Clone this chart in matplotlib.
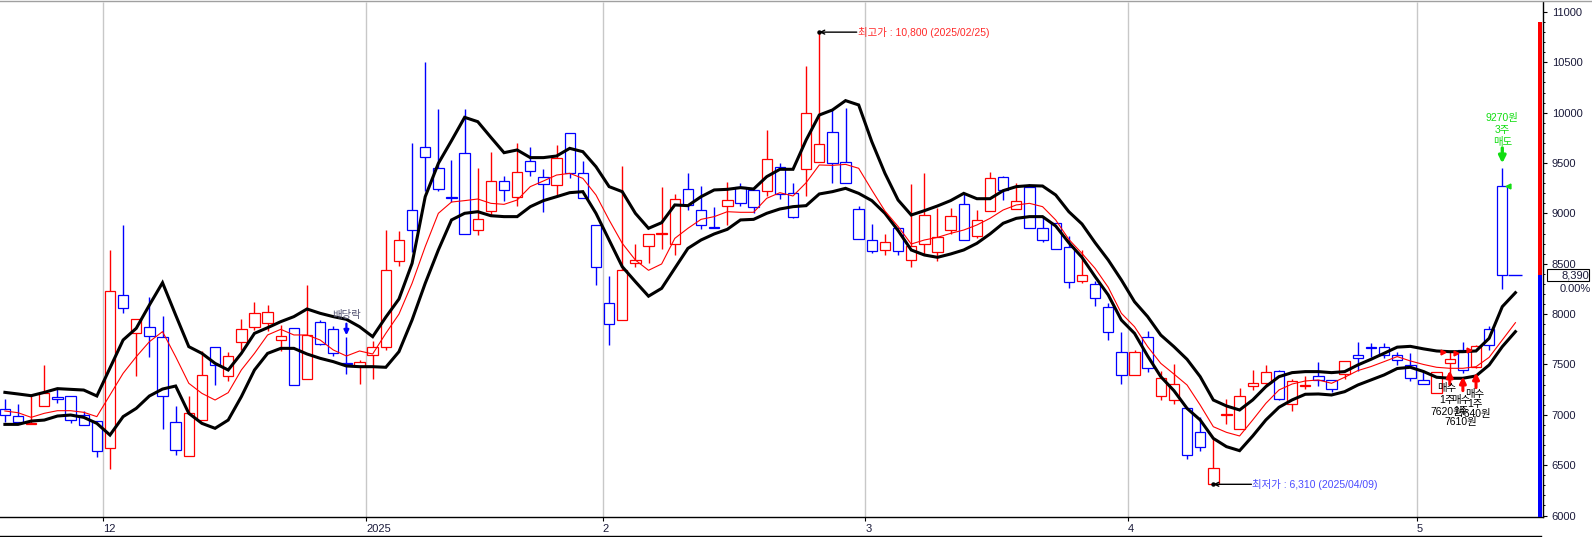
import matplotlib
matplotlib.use('Agg')
import matplotlib.pyplot as plt
import matplotlib.transforms as mtransforms
from matplotlib.patches import Rectangle
from matplotlib.lines import Line2D
import numpy as np

plt.rcParams['font.family'] = ['Liberation Sans', 'Noto Sans CJK KR', 'DejaVu Sans']

# ---------------- data ----------------
opens = [7060, 6990, 6910, 7090, 7180, 7190, 7000, 6940, 6670, 8190,
         7810, 7870, 7770, 6930, 6590, 6950, 7670, 7390, 7720, 7870,
         7910, 7740, 7860, 7360, 7920, 7850, 7510, 7480, 7590, 7670,
         8530, 9030, 9660, 9450, 9160, 9600, 8840, 9020, 9320, 9160,
         9520, 9360, 9280, 9800, 9400, 8880, 8110, 7940, 8510, 8680,
         8800, 8700, 9240, 9030, 8870, 9070, 9260, 9230, 9220, 9460,
         9200, 9440, 9510, 9810, 9510, 9040, 8740, 8640, 8860, 8540,
         8700, 8620, 8840, 9090, 8780, 9020, 9360, 9040, 9260, 8860,
         8900, 8670, 8330, 8300, 8070, 7620, 7400, 7770, 7190, 7150,
         7070, 6830, 6310, 7000, 6860, 7290, 7320, 7440, 7110, 7290,
         7390, 7350, 7410, 7590, 7670, 7670, 7590, 7490, 7350, 7220,
         7510, 7640, 7470, 7850, 9270]
closes = [7000, 6930, 6920, 7220, 7160, 6950, 6900, 6640, 8230, 8060,
          7950, 7780, 7190, 6650, 7020, 7400, 7490, 7580, 7850, 8010,
          8020, 7780, 7300, 7790, 7700, 7610, 7500, 7520, 7670, 8440,
          8740, 8840, 9560, 9240, 9150, 8800, 8940, 9320, 9230, 9410,
          9420, 9290, 9550, 9400, 9150, 8470, 7900, 8440, 8540, 8800,
          8810, 9140, 9080, 8880, 8860, 9130, 9100, 9060, 9540, 9190,
          8960, 10000, 9690, 9500, 9300, 8750, 8630, 8720, 8630, 8680,
          8980, 8770, 8970, 8740, 8930, 9350, 9230, 9120, 8860, 8740,
          8650, 8320, 8390, 8160, 7820, 7400, 7620, 7460, 7370, 7310,
          6600, 6680, 6470, 7010, 7190, 7320, 7430, 7160, 7340, 7300,
          7350, 7260, 7530, 7560, 7660, 7590, 7540, 7370, 7310, 7430,
          7550, 7450, 7680, 7690, 8390]
highs = [7160, 7110, 7200, 7490, 7270, 7190, 7040, 6940, 8640, 8880,
         7950, 8170, 7980, 7090, 7190, 7630, 7670, 7620, 7950, 8120,
         8090, 7890, 7860, 8290, 7940, 7880, 7770, 7540, 7730, 8840,
         8830, 9700, 10500, 10040, 9530, 10040, 9450, 9610, 9370, 9700,
         9660, 9440, 9680, 9800, 9520, 8880, 8380, 9470, 8700, 8800,
         9260, 9190, 9400, 9270, 9060, 9310, 9300, 9230, 9830, 9500,
         9300, 10460, 10800, 10040, 10050, 9070, 8890, 8800, 8860, 9290,
         9400, 9050, 9050, 9200, 9030, 9410, 9370, 9300, 9290, 8970,
         8900, 8780, 8640, 8330, 8110, 7820, 7640, 7830, 7440, 7500,
         7070, 6980, 6770, 7160, 7270, 7450, 7490, 7450, 7360, 7390,
         7520, 7350, 7530, 7720, 7710, 7710, 7620, 7610, 7450, 7430,
         7620, 7720, 7690, 7880, 9450]
lows = [6930, 6910, 6910, 7090, 7120, 6920, 6900, 6580, 6460, 8010,
        7390, 7570, 6860, 6600, 6590, 6950, 7300, 7340, 7640, 7840,
        7830, 7630, 7300, 7360, 7690, 7580, 7410, 7310, 7360, 7640,
        8480, 8620, 9220, 9220, 9110, 8800, 8790, 8980, 9120, 9070,
        9370, 9010, 9180, 9350, 9150, 8290, 7690, 7940, 8470, 8510,
        8650, 8590, 9030, 8850, 8860, 8880, 9070, 9000, 9170, 9140,
        8950, 9170, 9510, 9300, 9300, 8750, 8610, 8590, 8590, 8470,
        8590, 8530, 8800, 8740, 8760, 9020, 9130, 9040, 8860, 8720,
        8650, 8260, 8310, 8080, 7740, 7310, 7400, 7430, 7150, 7110,
        6560, 6640, 6310, 6910, 6860, 7250, 7300, 7150, 7040, 7260,
        7290, 7230, 7360, 7440, 7570, 7560, 7490, 7340, 7310, 7220,
        7420, 7420, 7460, 7640, 8250]

upper_band = [7223, 7207, 7190, 7223, 7260, 7253, 7246, 7187, 7465, 7743,
              7859, 8090, 8312, 7991, 7677, 7610, 7511, 7445, 7610, 7809,
              7865, 7925, 7975, 8051, 8008, 7975, 7948, 7875, 7776, 7970,
              8150, 8504, 9166, 9497, 9722, 9954, 9911, 9755, 9603, 9630,
              9554, 9554, 9570, 9646, 9613, 9464, 9266, 9216, 9001, 8852,
              8908, 9084, 9077, 9166, 9233, 9239, 9256, 9242, 9365, 9438,
              9438, 9729, 9977, 10027, 10120, 10077, 9712, 9398, 9133, 8984,
              9027, 9074, 9127, 9199, 9146, 9146, 9226, 9266, 9276, 9272,
              9183, 9017, 8895, 8709, 8537, 8339, 8123, 7975, 7792, 7677,
              7551, 7379, 7147, 7088, 7048, 7148, 7280, 7379, 7419, 7429,
              7429, 7419, 7429, 7495, 7551, 7611, 7672, 7680, 7655, 7634,
              7627, 7627, 7634, 7760, 8074, 8213]
mid_line = [7038, 7021, 6975, 7015, 7041, 7041, 7025, 6982, 7197, 7412,
            7577, 7726, 7826, 7577, 7313, 7213, 7147, 7220, 7445, 7610,
            7793, 7849, 7793, 7793, 7743, 7644, 7584, 7634, 7604, 7809,
            8000, 8306, 8670, 9001, 9113, 9127, 9143, 9100, 9090, 9133,
            9266, 9322, 9381, 9398, 9348, 9183, 8935, 8703, 8537, 8435,
            8498, 8752, 8852, 8941, 8968, 9017, 9011, 9011, 9150, 9206,
            9173, 9305, 9481, 9477, 9487, 9448, 9232, 9024, 8870, 8696,
            8736, 8762, 8802, 8835, 8885, 8951, 9034, 9084, 9100, 9067,
            8935, 8742, 8603, 8454, 8266, 8008, 7875, 7677, 7511, 7405,
            7296, 7097, 6882, 6826, 6790, 6949, 7114, 7247, 7306, 7336,
            7346, 7313, 7373, 7439, 7479, 7528, 7578, 7535, 7500, 7472,
            7462, 7462, 7478, 7571, 7743, 7915]
lower_band = [6905, 6905, 6938, 6948, 6988, 6998, 6975, 6915, 6799, 6982,
              7064, 7187, 7256, 7286, 7015, 6915, 6866, 6948, 7180, 7445,
              7610, 7660, 7660, 7604, 7561, 7528, 7485, 7478, 7478, 7472,
              7627, 7942, 8306, 8637, 8935, 9001, 9017, 8977, 8968, 8968,
              9067, 9127, 9166, 9206, 9216, 9001, 8736, 8471, 8322, 8178,
              8256, 8455, 8653, 8736, 8796, 8842, 8935, 8941, 9001, 9044,
              9067, 9077, 9193, 9216, 9249, 9199, 9127, 9001, 8830, 8637,
              8587, 8564, 8597, 8637, 8703, 8796, 8902, 8951, 8968, 8968,
              8875, 8709, 8564, 8372, 8190, 7941, 7809, 7584, 7379, 7240,
              7064, 6949, 6766, 6684, 6644, 6790, 6949, 7075, 7148, 7204,
              7207, 7197, 7230, 7296, 7346, 7396, 7460, 7472, 7430, 7373,
              7363, 7363, 7386, 7495, 7677, 7826]

month_labels = ['12', '2025', '2', '3', '4', '5']
month_first_idx = [8, 28, 46, 66, 86, 108]

y_ticks = [6000, 6500, 7000, 7500, 8000, 8500, 9000, 9500, 10000, 10500, 11000]

dividend_idx = 26
buy_idx = [110, 111, 112]
buy_price = [7620, 7610, 7640]
buy_qty = [1, 1, 1]
sell_idx = 114
sell_price = 9270
sell_qty = 3
high_date = '2025/02/25'
low_date = '2025/04/09'
bar_top = 10900

# ---------------- layout ----------------
W, H = 1592, 537
fig = plt.figure(figsize=(W / 100, H / 100), dpi=100)
fig.patch.set_facecolor('white')

def fx(px):
    return px / W

def fy(py):
    return 1 - py / H

ax_right_px, ax_top_px, ax_bot_px = 1543, 2, 517.3
ax = fig.add_axes([0, fy(ax_bot_px), fx(ax_right_px), (ax_bot_px - ax_top_px) / H])

slot = 13.135
x0px = 4.9
ax.set_xlim((0 - x0px) / slot, (ax_right_px - x0px) / slot)
y_lo = 11000 - (ax_bot_px - 12) * 9.93
y_hi = 11000 - (ax_top_px - 12) * 9.93
ax.set_ylim(y_lo, y_hi)

# month grid lines
grid_pos = [i - 0.5 for i in month_first_idx]
ax.vlines(grid_pos, y_lo, y_hi, colors='#c8c8c8', lw=1.0, zorder=1)

# candles
n = len(opens)
xs = np.arange(n)
o = np.array(opens, float)
c = np.array(closes, float)
hi = np.array(highs, float)
lo = np.array(lows, float)
cols = ['#ff0000' if cc >= oo else '#0000ff' for oo, cc in zip(o, c)]
ax.vlines(xs, lo, hi, colors=cols, lw=1.0, zorder=3)
ax.bar(xs, np.abs(c - o), width=0.79, bottom=np.minimum(o, c), facecolor='white',
       edgecolor=cols, linewidth=0.9, zorder=4)

# bands
xl = np.arange(len(upper_band))
ax.plot(xl, upper_band, color='black', lw=2.2, zorder=5, solid_joinstyle='miter')
ax.plot(xl, lower_band, color='black', lw=2.2, zorder=5, solid_joinstyle='miter')
ax.plot(xl, mid_line, color='#ff0000', lw=0.8, zorder=5)

# current price line
ax.hlines(closes[-1], n - 1 + 0.45, n + 0.5, colors='#0000ff', lw=1.0, zorder=5)

# high / low annotations
imax = int(np.argmax(hi))
imin = int(np.argmin(lo))
ax.annotate('', xy=(imax, hi[imax]), xytext=(imax + 2.85, hi[imax]),
            arrowprops=dict(arrowstyle='->', color='black', lw=1.0, shrinkA=0, shrinkB=0,
                            mutation_scale=7), zorder=6)
ax.plot([imax], [hi[imax]], 'o', ms=2.2, color='black', zorder=6)
ax.text(imax + 2.93, hi[imax], '최고가 : {:,} ({})'.format(int(hi[imax]), high_date),
        color='#ff2a2a', fontsize=7.5, va='center', ha='left', zorder=6)
ax.annotate('', xy=(imin, lo[imin]), xytext=(imin + 2.9, lo[imin]),
            arrowprops=dict(arrowstyle='->', color='black', lw=1.0, shrinkA=0, shrinkB=0,
                            mutation_scale=7), zorder=6)
ax.plot([imin], [lo[imin]], 'o', ms=2.2, color='black', zorder=6)
ax.text(imin + 2.98, lo[imin], '최저가 : {:,} ({})'.format(int(lo[imin]), low_date),
        color='#4a4aff', fontsize=7.5, va='center', ha='left', zorder=6)

# dividend marker
ax.text(dividend_idx, 7991, '배당락', color='#505070', fontsize=7.5, ha='center', va='center', zorder=6)
ax.annotate('', xy=(dividend_idx, 7790), xytext=(dividend_idx, 7905),
            arrowprops=dict(arrowstyle='-|>', color='#0000ff', lw=1.6, shrinkA=0, shrinkB=0,
                            mutation_scale=7), zorder=6)

# buy markers
arrow_tip = [7440, 7380, 7420]
arrow_tail = [7300, 7240, 7270]
label_top = [7266, 7147, 7207]
label_dx = [-0.2, -0.15, -0.1]
line_step = [119, 109, 100]
for k in range(len(buy_idx)):
    bi = buy_idx[k]
    ax.plot([bi - 0.5], [buy_price[k]], marker='>', ms=3.5, color='#ff0000', zorder=7)
    ax.annotate('', xy=(bi, arrow_tip[k]), xytext=(bi, arrow_tail[k]),
                arrowprops=dict(arrowstyle='-|>', color='#ff0000', lw=2.2, shrinkA=0, shrinkB=0,
                                mutation_scale=9), zorder=7)
    lines = ['매수', '{}주'.format(buy_qty[k]), '{}원'.format(buy_price[k])]
    for j, t in enumerate(lines):
        ax.text(bi + label_dx[k], label_top[k] - j * line_step[k], t, fontsize=7.5,
                color='black', ha='center', va='center', zorder=8)

# sell marker
ax.plot([sell_idx + 0.45], [sell_price], marker='<', ms=3.5, color='#11dd11', zorder=7)
ax.annotate('', xy=(sell_idx, 9497), xytext=(sell_idx, 9650),
            arrowprops=dict(arrowstyle='-|>', color='#11dd11', lw=2.4, shrinkA=0, shrinkB=0,
                            mutation_scale=10), zorder=7)
for j, t in enumerate(['{}원'.format(sell_price), '{}주'.format(sell_qty), '매도']):
    ax.text(sell_idx, 9947 - j * 119, t, fontsize=7.5, color='#11dd11',
            ha='center', va='center', zorder=8)

# right colour bar
trans = mtransforms.blended_transform_factory(ax.transAxes, ax.transData)
bx0 = 1538.3 / ax_right_px
bw = 4.0 / ax_right_px
ax.add_patch(Rectangle((bx0, closes[-1]), bw, bar_top - closes[-1], transform=trans,
                       facecolor='#ff0000', edgecolor='none', zorder=6, clip_on=False))
ax.add_patch(Rectangle((bx0, y_lo), bw, closes[-1] - y_lo, transform=trans,
                       facecolor='#0000ff', edgecolor='none', zorder=6, clip_on=False))

# axes styling
for s in ['left', 'top']:
    ax.spines[s].set_visible(False)
ax.spines['right'].set_color('black')
ax.spines['right'].set_linewidth(1.0)
ax.spines['bottom'].set_color('black')
ax.spines['bottom'].set_linewidth(1.0)
ax.yaxis.tick_right()
ax.set_yticks(y_ticks)
ax.set_yticklabels([str(v) for v in y_ticks])
ax.set_yticks(np.arange(6000, 11001, 100), minor=True)
ax.tick_params(axis='y', which='major', direction='out', length=3.2, width=0.8,
               labelsize=8, pad=3, colors='black', labelcolor='#1a1a3a')
ax.tick_params(axis='y', which='minor', direction='out', length=1.6, width=0.7, colors='black')
ax.set_xticks(grid_pos)
ax.set_xticklabels(month_labels)
ax.tick_params(axis='x', direction='out', length=3, width=0.8, labelsize=8, pad=2,
               colors='black', labelcolor='#1a1a3a')
for lab in ax.get_xticklabels():
    lab.set_horizontalalignment('left')

# price box on the right
fig.add_artist(Rectangle((fx(1546.5), fy(281)), (1589.3 - 1546.5) / W, 12 / H,
                         transform=fig.transFigure, facecolor='white', edgecolor='black', lw=0.8))
fig.text(fx(1575), fy(275), '{:,}'.format(closes[-1]), fontsize=8, color='#1a1a3a',
         ha='center', va='center')
fig.text(fx(1575), fy(289.5), '0.00%', fontsize=8, color='#1a1a3a', ha='center', va='center')

# frame lines
fig.add_artist(Line2D([0, 1], [fy(1), fy(1)], transform=fig.transFigure, color='#a0a0a0', lw=1.0))
fig.add_artist(Line2D([0, fx(1541)], [fy(536.3), fy(536.3)], transform=fig.transFigure,
                      color='black', lw=1.0))

fig.savefig('out.png', dpi=100, facecolor='white')
